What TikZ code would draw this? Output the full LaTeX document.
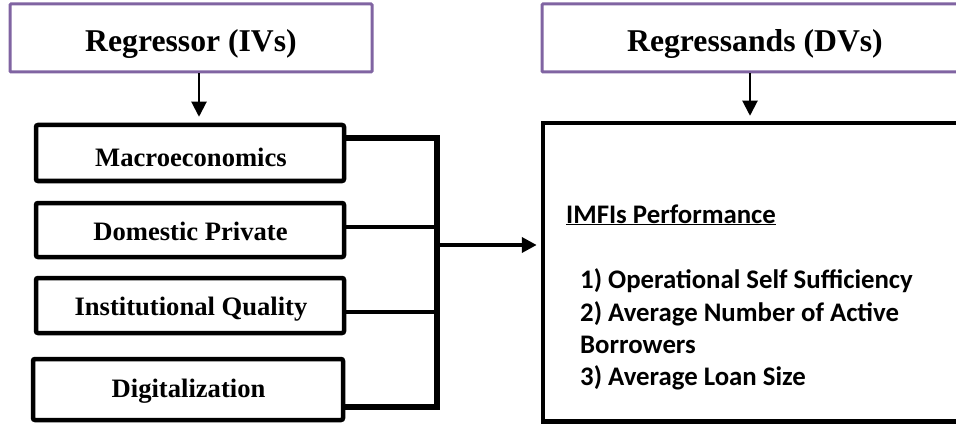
\documentclass[tikz,border=0pt]{standalone}
\usepackage{fontspec}
\setmainfont{Liberation Serif}
\newfontfamily\calib{Carlito}
\usetikzlibrary{arrows.meta}
\definecolor{accpurple}{RGB}{128,100,162}
\begin{document}
\begin{tikzpicture}[x=1pt,y=-1pt,
  headbox/.style={draw=accpurple, line width=3pt, rounded corners=1pt, inner sep=0pt},
  ivbox/.style={draw=black, line width=4.5pt, rounded corners=2pt, inner sep=0pt},
  bigbox/.style={draw=black, line width=4.5pt, inner sep=0pt},
  headtext/.style={font=\fontsize{31.7}{36}\selectfont\bfseries, anchor=base, inner sep=0pt},
  ivtext/.style={font=\fontsize{26.6}{30}\selectfont\bfseries, anchor=base, inner sep=0pt},
  dvtext/.style={font=\calib\fontsize{26.8}{32}\selectfont\bfseries, anchor=base west, inner sep=0pt},
  darr/.style={line width=2pt, -{Triangle[length=15pt,width=15pt]}},
  bracketline/.style={line width=5.5pt},
  thinbranch/.style={line width=4.5pt},
  harr/.style={line width=4.5pt, -{Triangle[length=15pt,width=15pt]}}
]
\useasboundingbox (0,0) rectangle (956,425);
\clip (0,0) rectangle (956,425);

% header boxes
\node[headbox, minimum width=362pt, minimum height=68pt] (ivs) at (191,38) {};
\node[headtext] (ivst) at (191,52) {Regressor (IVs)};
\node[headbox, minimum width=426pt, minimum height=68pt] (dvs) at (755,38) {};
\node[headtext] (dvst) at (755,52) {Regressands (DVs)};

% independent variable boxes
\node[ivbox, minimum width=308pt, minimum height=56pt] (macro) at (190,153) {};
\node[ivtext] (macrot) at (191,167) {Macroeconomics};
\node[ivbox, minimum width=308pt, minimum height=54pt] (dom) at (190,230) {};
\node[ivtext] (domt) at (190.5,240) {Domestic Private};
\node[ivbox, minimum width=308pt, minimum height=55pt] (inst) at (190,305.5) {};
\node[ivtext] (instt) at (191,315) {Institutional Quality};
\node[ivbox, minimum width=310pt, minimum height=61pt] (dig) at (188,389.5) {};
\node[ivtext] (digt) at (188.5,397) {Digitalization};

% dependent variable box
\node[bigbox, minimum width=447pt, minimum height=298.5pt] (perf) at (766.5,272.25) {};
\node[dvtext] (perft) at (566,223) {\underline{IMFIs Performance}};
\node[dvtext] (l1) at (580,288) {1) Operational Self Sufficiency};
\node[dvtext] (l2) at (580,321) {2) Average Number of Active};
\node[dvtext] (l3) at (580,353) {Borrowers};
\node[dvtext] (l4) at (580,385) {3) Average Loan Size};

% vertical arrows
\draw[darr, shorten >=6pt] ([xshift=8pt]ivs.south) -- ([xshift=8pt]ivs.south |- macro.north);
\draw[darr, shorten >=5pt] ([xshift=-5pt]dvs.south) -- ([xshift=-5pt]dvs.south |- perf.north);

% bracket
\coordinate (bt) at (437,138);
\coordinate (bb) at (437,407);
\coordinate (j2) at (437,227);
\coordinate (j3) at (437,312);
\coordinate (bm) at (437,245);
\draw[bracketline] (bt -| macro.east) -- (bt) -- (bb) -- (bb -| dig.east);
\draw[thinbranch] (j2 -| dom.east) -- (j2);
\draw[thinbranch] (j3 -| inst.east) -- (j3);
\draw[harr, shorten >=4pt] (bm) -- (bm -| perf.west);
\end{tikzpicture}
\end{document}
